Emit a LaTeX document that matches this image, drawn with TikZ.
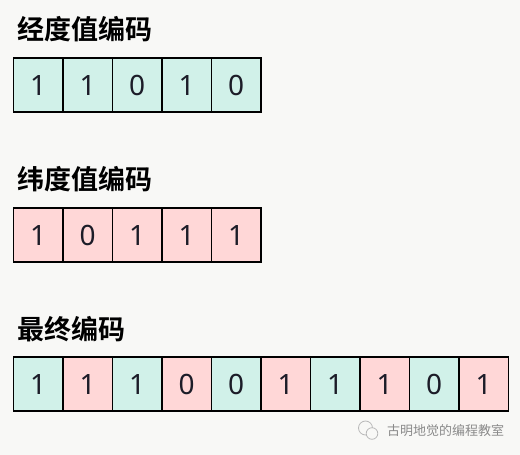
\documentclass[tikz,border=0pt]{standalone}
\usepackage{fontspec}
\setmainfont{Noto Sans}
\newfontfamily\cjk{Noto Sans CJK SC}
\newfontfamily\cjkb{Noto Sans CJK SC Bold}
\definecolor{bgc}{HTML}{F8F8F6}
\definecolor{teal}{HTML}{D1F1E9}
\definecolor{pinkc}{HTML}{FFD7D7}
\definecolor{digc}{HTML}{1C1C28}
\definecolor{wmc}{HTML}{8A8A8A}
\tikzset{
  cell/.style={draw=black, line width=1.1pt, minimum width=49.5pt, minimum height=54pt, inner sep=0pt,
    font=\fontsize{28}{28}\selectfont, text=digc, text height=20pt, text depth=0pt, anchor=center},
  lon/.style={cell, fill=teal},
  lat/.style={cell, fill=pinkc},
  title/.style={anchor=base west, inner sep=0pt, font=\cjkb\fontsize{27}{27}\selectfont},
  wm/.style={anchor=west, inner sep=0pt, text=wmc, font=\cjk\fontsize{13}{13}\selectfont}
}
\begin{document}
\begin{tikzpicture}[x=1pt,y=1pt]
\fill[bgc] (0,0) rectangle (520,-455);
\useasboundingbox (0,0) rectangle (520,-455);
\node[title] (t1) at (17,-39) {经度值编码};
\node[title] (t2) at (17,-189) {纬度值编码};
\node[title] (t3) at (17,-339) {最终编码};
% longitude
\foreach \d [count=\i from 0] in {1,1,0,1,0}
  \node[lon] (a\i) at (13.5+24.75+49.5*\i,-85) {\d};
% latitude
\foreach \d [count=\i from 0] in {1,0,1,1,1}
  \node[lat] (b\i) at (13.5+24.75+49.5*\i,-235) {\d};
% final
\foreach \d/\s [count=\i from 0] in {1/lon,1/lat,1/lon,0/lat,0/lon,1/lat,1/lon,1/lat,0/lon,1/lat}
  \node[\s] (c\i) at (13.5+24.75+49.5*\i,-384) {\d};
% watermark
\coordinate (ic1) at (365.5,-428);
\coordinate (ic2) at (372,-433.5);
\draw[wmc!60, line width=0.8pt] (ic1) circle (7);
\draw[wmc!60, line width=0.8pt, fill=bgc] (ic2) circle (5.8);
\node[wm] (w) at (387,-431) {古明地觉的编程教室};
\end{tikzpicture}
\end{document}
